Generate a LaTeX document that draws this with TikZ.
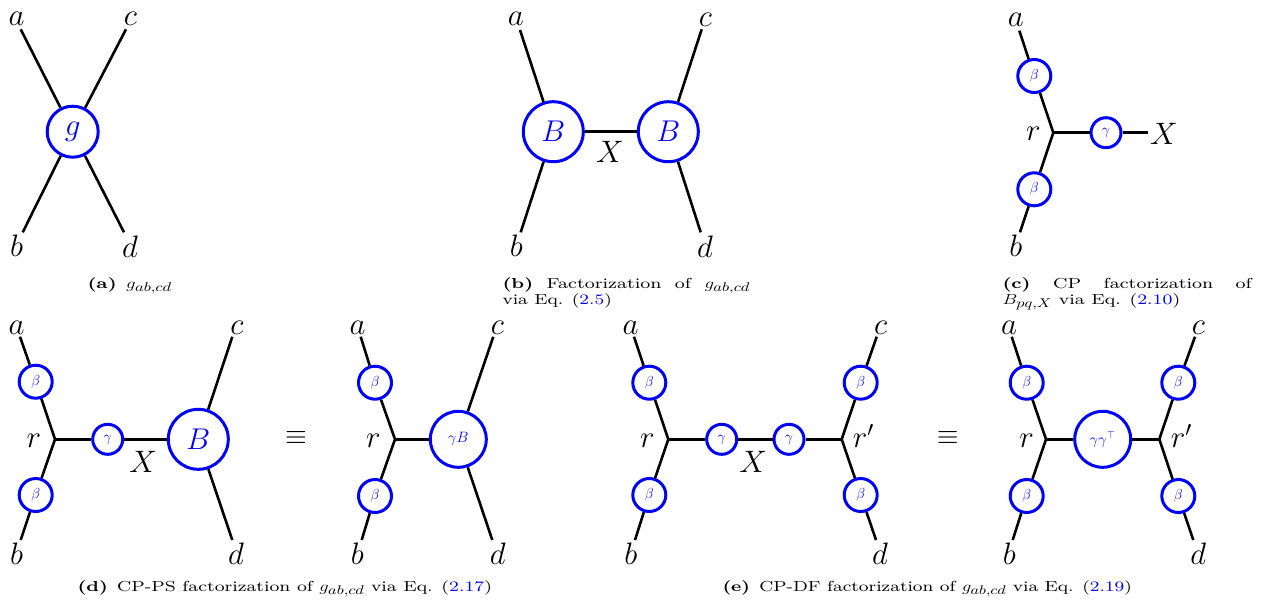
\RequirePackage{fix-cm}
\documentclass[tikz,border=0pt]{standalone}
\usepackage{fontspec}
\usepackage{graphicx}
\usepackage{xcolor}
% caption face: small optical size of Latin Modern
\newfontfamily\capfont{lmroman8-regular.otf}[BoldFont=lmroman8-bold.otf]
\newcommand\eqnum[1]{(\textcolor{blue}{#1})}
% enlarged subscripts as set in the captions
\newcommand\wsub[1]{\scalebox{1.25}{$\scriptstyle #1$}}
% stretch a caption line to a given width, keeping its height
\newcommand\fitw[2]{\resizebox{#1}{\height}{#2}}
% justified first caption line, widened like the rest of the caption
\newcommand\justline[2]{\scalebox{1.3}[1]{\makebox[#1][s]{#2}}}
\tikzset{
  wire/.style={line width=2.6pt},
  blob/.style={circle, draw=blue, line width=3pt, inner sep=0pt, text=blue},
  gblob/.style={blob, minimum size=51pt, font=\fontsize{31}{31}\selectfont},
  bigblob/.style={blob, minimum size=60pt, font=\fontsize{30}{30}\selectfont},
  midblob/.style={blob, minimum size=56pt, font=\fontsize{15}{15}\selectfont},
  betablob/.style={blob, minimum size=33pt, font=\fontsize{14.5}{14.5}\selectfont},
  gamblob/.style={blob, minimum size=30pt, font=\fontsize{14.5}{14.5}\selectfont},
  lab/.style={inner sep=0pt, font=\fontsize{31}{31}\selectfont},
  primelab/.style={lab, anchor=base west},
  equivsign/.style={inner sep=0pt, font=\fontsize{28}{28}\selectfont},
  captext/.style={inner sep=0pt, anchor=base west, font=\fontsize{14.5}{17}\selectfont\capfont},
}
\begin{document}
\begin{tikzpicture}[x=1pt,y=-1pt]
\useasboundingbox (0,0) rectangle (1263,606);

% ---------- (a) single tensor g ----------
\node[gblob] (g) at (72.7,131.7) {$g$};
\coordinate (ga) at (20.7,29.3);
\coordinate (gc) at (126,29.3);
\coordinate (gb) at (22.7,232.3);
\coordinate (gd) at (124,232.3);
\draw[wire] (ga) -- (g); \draw[wire] (gc) -- (g);
\draw[wire] (gb) -- (g); \draw[wire] (gd) -- (g);
\node[lab] (ga-l) at (16.7,18.5) {$a$};
\node[lab] (gc-l) at (130.3,19.3) {$c$};
\node[lab] (gb-l) at (16.7,246) {$b$};
\node[lab] (gd-l) at (130,246.5) {$d$};
\node[captext] (capa) at (87.3,288) {\fitw{84.4pt}{\textbf{(a)}\enspace$g_{\wsub{ab,cd}}$}};

% ---------- (b) B -- X -- B ----------
\node[bigblob] (B1) at (553.3,131.7) {$B$};
\node[bigblob] (B2) at (668.3,131.7) {$B$};
\draw[wire] (B1) -- (B2);
\node[lab] (bX) at (610,151.7) {$X$};
\coordinate (ba) at (520,30);
\coordinate (bb) at (520.7,232.3);
\coordinate (bc) at (701.7,29.3);
\coordinate (bd) at (700.7,232.3);
\draw[wire] (ba) -- (B1); \draw[wire] (bb) -- (B1);
\draw[wire] (bc) -- (B2); \draw[wire] (bd) -- (B2);
\node[lab] (ba-l) at (515.8,19) {$a$};
\node[lab] (bb-l) at (516.3,245.8) {$b$};
\node[lab] (bc-l) at (705.5,20) {$c$};
\node[lab] (bd-l) at (705,247) {$d$};
\node[captext] (capb1) at (502.3,288) {\justline{190.5pt}{\textbf{(b)} Factorization of $g_{\wsub{ab,cd}}$}};
\node[captext] (capb2) at (502.3,304) {\fitw{109.3pt}{via Eq. \eqnum{2.5}}};

% ---------- (c) CP factorization of B ----------
\coordinate (cr) at (1053.3,132.7);
\node[betablob] (cbt) at (1034.3,76) {$\beta$};
\node[betablob] (cbb) at (1034.3,189.3) {$\beta$};
\node[gamblob] (cg) at (1106,132.7) {$\gamma$};
\coordinate (ca) at (1019.3,30.7);
\coordinate (cb) at (1020,232.3);
\coordinate (cx) at (1148.3,132.7);
\draw[wire] (ca) -- (cbt);
\draw[wire] (cbt) -- (cr) -- (cbb);
\draw[wire] (cbb) -- (cb);
\draw[wire] (cr) -- (cg);
\draw[wire] (cg) -- (cx);
\node[lab] (ca-l) at (1015.8,20) {$a$};
\node[lab] (cb-l) at (1015.8,245.8) {$b$};
\node[lab] (cr-l) at (1033.3,134) {$r$};
\node[lab] (cX) at (1164,133.7) {$X$};
\node[captext] (capc1) at (1002.3,288) {\justline{191.8pt}{\textbf{(c)} CP factorization of}};
\node[captext] (capc2) at (1002.3,304) {\fitw{177.7pt}{$B_{\wsub{pq,X}}$ via Eq. \eqnum{2.10}}};

% ---------- (d) CP-PS, left ----------
\coordinate (dr) at (55,439.3);
\node[betablob] (dbt) at (35.7,381.7) {$\beta$};
\node[betablob] (dbb) at (35.7,495) {$\beta$};
\node[gamblob] (dg) at (107.7,439.3) {$\gamma$};
\node[bigblob] (dB) at (198.3,439.3) {$B$};
\coordinate (da) at (20,336.7);
\coordinate (db) at (20.7,540);
\coordinate (dc) at (232.3,336.7);
\coordinate (dd) at (232.3,540);
\draw[wire] (da) -- (dbt);
\draw[wire] (dbt) -- (dr) -- (dbb);
\draw[wire] (dbb) -- (db);
\draw[wire] (dr) -- (dg);
\draw[wire] (dg) -- (dB);
\draw[wire] (dc) -- (dB); \draw[wire] (dd) -- (dB);
\node[lab] (da-l) at (16.7,328.3) {$a$};
\node[lab] (db-l) at (16.7,554) {$b$};
\node[lab] (dc-l) at (237,328.3) {$c$};
\node[lab] (dd-l) at (236,554) {$d$};
\node[lab] (dr-l) at (33.8,440.8) {$r$};
\node[lab] (dX) at (143.3,461.7) {$X$};
\node[equivsign] (deq) at (296,438.3) {$\equiv$};

% ---------- (d) CP-PS, right ----------
\coordinate (er) at (395,439.3);
\node[betablob] (ebt) at (375,382.7) {$\beta$};
\node[betablob] (ebb) at (375,496) {$\beta$};
\node[midblob] (egB) at (458.3,439.3) {$\gamma B$};
\coordinate (ea) at (360.7,336.7);
\coordinate (eb) at (361.7,540);
\coordinate (ec) at (493.3,336.7);
\coordinate (ed) at (492.3,540);
\draw[wire] (ea) -- (ebt);
\draw[wire] (ebt) -- (er) -- (ebb);
\draw[wire] (ebb) -- (eb);
\draw[wire] (er) -- (egB);
\draw[wire] (ec) -- (egB); \draw[wire] (ed) -- (egB);
\node[lab] (ea-l) at (357.5,328.3) {$a$};
\node[lab] (eb-l) at (357.3,554) {$b$};
\node[lab] (ec-l) at (497.3,328.3) {$c$};
\node[lab] (ed-l) at (497.7,554) {$d$};
\node[lab] (er-l) at (373.3,440.8) {$r$};
\node[captext] (capd) at (77.3,591) {\fitw{414.4pt}{\textbf{(d)}\enspace CP-PS factorization of $g_{\wsub{ab,cd}}$ via Eq. \eqnum{2.17}}};

% ---------- (e) CP-DF, left ----------
\coordinate (fr1) at (668.3,439.3);
\coordinate (fr2) at (841.7,439.3);
\node[betablob] (f1t) at (649.3,382.7) {$\beta$};
\node[betablob] (f1b) at (649.3,495) {$\beta$};
\node[betablob] (f2t) at (860.7,382.7) {$\beta$};
\node[betablob] (f2b) at (860.7,495) {$\beta$};
\node[gamblob] (fg1) at (721.7,439.3) {$\gamma$};
\node[gamblob] (fg2) at (789,439.3) {$\gamma$};
\coordinate (fa) at (634,336.7);
\coordinate (fb) at (635,540);
\coordinate (fc) at (876.7,336.7);
\coordinate (fd) at (876,540);
\draw[wire] (fa) -- (f1t);
\draw[wire] (f1t) -- (fr1) -- (f1b);
\draw[wire] (f1b) -- (fb);
\draw[wire] (fc) -- (f2t);
\draw[wire] (f2t) -- (fr2) -- (f2b);
\draw[wire] (f2b) -- (fd);
\draw[wire] (fr1) -- (fg1);
\draw[wire] (fg1) -- (fg2);
\draw[wire] (fg2) -- (fr2);
\node[lab] (fa-l) at (630.5,328.3) {$a$};
\node[lab] (fb-l) at (630.7,554) {$b$};
\node[lab] (fc-l) at (880.7,328.3) {$c$};
\node[lab] (fd-l) at (880,554) {$d$};
\node[lab] (fr1-l) at (647.5,440.8) {$r$};
\node[primelab] (fr2-l) at (852.7,447.5) {$r'$};
\node[lab] (fX) at (753.3,461.7) {$X$};
\node[equivsign] (feq) at (947.7,438.3) {$\equiv$};

% ---------- (e) CP-DF, right ----------
\coordinate (hr1) at (1046,439.3);
\coordinate (hr2) at (1159.3,439.3);
\node[betablob] (h1t) at (1026.7,382.7) {$\beta$};
\node[betablob] (h1b) at (1026.7,496) {$\beta$};
\node[betablob] (h2t) at (1178.3,382.7) {$\beta$};
\node[betablob] (h2b) at (1178.3,496) {$\beta$};
\node[midblob] (hgg) at (1102.7,439.3) {$\gamma\gamma^{\top}$};
\coordinate (ha) at (1011.7,336.7);
\coordinate (hb) at (1012.7,540);
\coordinate (hc) at (1195,336.7);
\coordinate (hd) at (1193.3,540);
\draw[wire] (ha) -- (h1t);
\draw[wire] (h1t) -- (hr1) -- (h1b);
\draw[wire] (h1b) -- (hb);
\draw[wire] (hc) -- (h2t);
\draw[wire] (h2t) -- (hr2) -- (h2b);
\draw[wire] (h2b) -- (hd);
\draw[wire] (hr1) -- (hgg);
\draw[wire] (hgg) -- (hr2);
\node[lab] (ha-l) at (1009.2,328.3) {$a$};
\node[lab] (hb-l) at (1009.3,554) {$b$};
\node[lab] (hc-l) at (1198.3,328.3) {$c$};
\node[lab] (hd-l) at (1198.3,554) {$d$};
\node[lab] (hr1-l) at (1026.7,440.8) {$r$};
\node[primelab] (hr2-l) at (1170.7,447.5) {$r'$};
\node[captext] (cape) at (722.3,591) {\fitw{409.4pt}{\textbf{(e)}\enspace CP-DF factorization of $g_{\wsub{ab,cd}}$ via Eq. \eqnum{2.19}}};
\end{tikzpicture}
\end{document}
